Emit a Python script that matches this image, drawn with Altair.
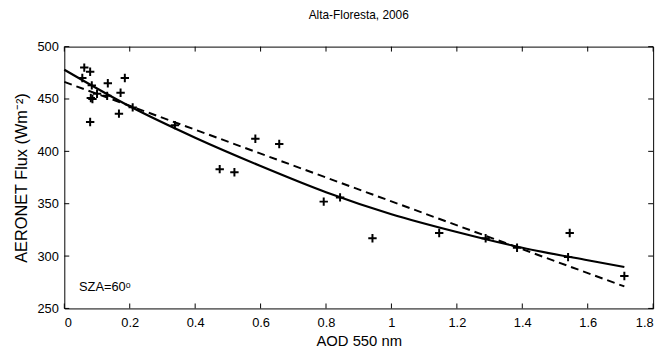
import altair as alt
import pandas as pd

# Observed points (AOD 550 nm, AERONET flux)
obs_x = [0.061, 0.079, 0.055, 0.185, 0.133, 0.084, 0.172, 0.081, 0.086, 0.100,
         0.131, 0.167, 0.079, 0.209, 0.338, 0.584, 0.475, 0.520, 0.657, 0.793,
         0.843, 0.942, 1.146, 1.288, 1.384, 1.545, 1.540, 1.712]
obs_y = [480, 476, 470, 470, 465, 463, 456, 451, 450, 455,
         453, 436, 428, 442, 425, 412, 383, 380, 407, 352,
         356, 317, 322, 317, 308, 322, 299, 281]

# Solid fitted curve
fit_x = [0.0, 0.2, 0.4, 0.6, 0.8, 1.0, 1.2, 1.4, 1.6, 1.712]
fit_y = [478, 443, 413, 386, 361, 340, 323, 308, 296, 289.6]

# Dashed linear fit
lin_x = [0.0, 1.712]
lin_y = [466.3, 271]

x_ticks = [0, 0.2, 0.4, 0.6, 0.8, 1.0, 1.2, 1.4, 1.6, 1.8]
y_ticks = [250, 300, 350, 400, 450, 500]

W, H = 596, 265
FONT = "Liberation Sans"

obs = pd.DataFrame({"x": obs_x, "y": obs_y})
fit = pd.DataFrame({"x": fit_x, "y": fit_y})
lin = pd.DataFrame({"x": lin_x, "y": lin_y})
xt = pd.DataFrame({"v": x_ticks})
yt = pd.DataFrame({"v": y_ticks})

xs = alt.Scale(domain=[0, 1.8], nice=False, zero=False)
ys = alt.Scale(domain=[250, 500], nice=False, zero=False)

X = alt.X("x:Q", scale=xs,
          axis=alt.Axis(values=x_ticks, format="~g", title="AOD 550 nm",
                        grid=False, ticks=False, domain=False,
                        labelPadding=8, titlePadding=5))
Y = alt.Y("y:Q", scale=ys,
          axis=alt.Axis(values=y_ticks, title="AERONET Flux (Wm\u207b\u00b2)",
                        grid=False, ticks=False, domain=False,
                        labelPadding=6, titlePadding=8, titleFontSize=16.5))

points = alt.Chart(obs).mark_point(
    shape="M-1,0L1,0M0,-1L0,1", size=72, filled=False,
    stroke="black", strokeWidth=2, opacity=1
).encode(x=X, y=Y)

solid = alt.Chart(fit).mark_line(
    color="black", strokeWidth=2.2, interpolate="monotone"
).encode(x=alt.X("x:Q", scale=xs), y=alt.Y("y:Q", scale=ys))

dashed = alt.Chart(lin).mark_line(
    color="black", strokeWidth=2, strokeDash=[8, 5]
).encode(x=alt.X("x:Q", scale=xs), y=alt.Y("y:Q", scale=ys))

# inward ticks on all four sides
tick_len = 5
xb = alt.Chart(xt).mark_rule(color="black", strokeWidth=1).encode(
    x=alt.X("v:Q", scale=xs), y=alt.value(H), y2=alt.value(H - tick_len))
xtop = alt.Chart(xt).mark_rule(color="black", strokeWidth=1).encode(
    x=alt.X("v:Q", scale=xs), y=alt.value(0), y2=alt.value(tick_len))
yl = alt.Chart(yt).mark_rule(color="black", strokeWidth=1).encode(
    y=alt.Y("v:Q", scale=ys), x=alt.value(0), x2=alt.value(tick_len))
yr = alt.Chart(yt).mark_rule(color="black", strokeWidth=1).encode(
    y=alt.Y("v:Q", scale=ys), x=alt.value(W), x2=alt.value(W - tick_len))

label = alt.Chart(pd.DataFrame({"x": [0.045], "y": [270], "t": ["SZA=60\u1d52"]})).mark_text(
    align="left", baseline="middle", font=FONT, fontSize=13, color="black"
).encode(x=alt.X("x:Q", scale=xs), y=alt.Y("y:Q", scale=ys), text="t:N")

chart = alt.layer(dashed, solid, points, xb, xtop, yl, yr, label).properties(
    width=W, height=H,
    title=alt.TitleParams("Alta-Floresta, 2006", font=FONT, fontSize=12,
                          fontWeight="normal", color="black", offset=19),
    autosize=alt.AutoSizeParams(type="none"),
    padding={"left": 57, "top": 37, "right": 11, "bottom": 42},
).configure_view(
    stroke="black", strokeWidth=1
).configure_axis(
    labelFont=FONT, titleFont=FONT, labelFontSize=13, titleFontSize=15,
    labelColor="black", titleColor="black", titleFontWeight="normal"
)

chart.save("out.html", embed_options={"renderer": "svg", "actions": False})
